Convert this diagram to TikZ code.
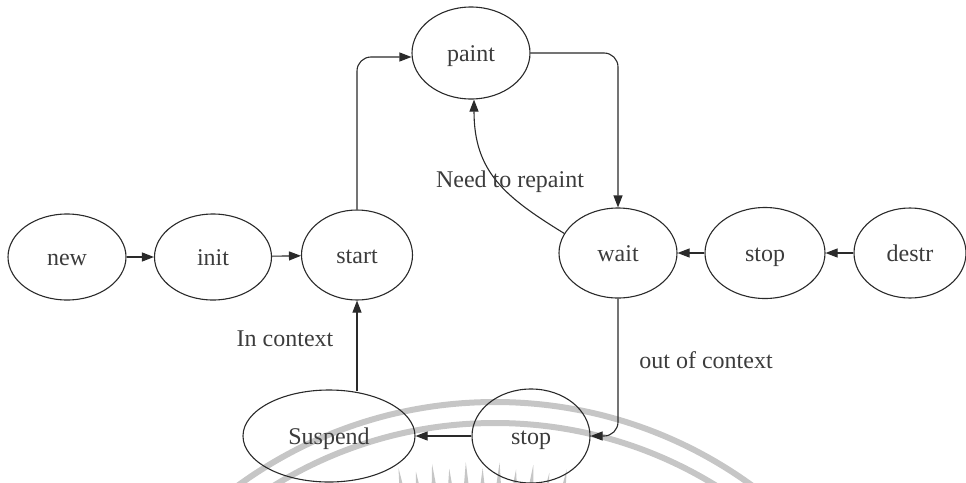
\documentclass[tikz,border=0pt]{standalone}
\usepackage{fontspec}
\setmainfont{Liberation Serif}
\usetikzlibrary{arrows.meta,shapes.geometric}
\definecolor{ink}{HTML}{2A2A2A}
\definecolor{txt}{HTML}{3C3C3C}
\definecolor{mark}{HTML}{C6C6C6}
\begin{document}
\begin{tikzpicture}[x=1pt,y=-1pt,
  state/.style={ellipse,draw=ink,line width=1.1pt,inner sep=0pt,text=txt,
    text height=20pt,text depth=3pt,font=\fontsize{24}{28}\selectfont},
  flow/.style={draw=ink,line width=1.1pt,-{Triangle[length=12pt,width=9pt]}},
  lbl/.style={text=txt,font=\fontsize{24}{28}\selectfont,inner sep=0pt},
  band/.style={draw=mark,line width=6pt},
  ray/.style={fill=mark,draw=none}]
\useasboundingbox (0,0) rectangle (966,482);

% faint emblem in the background: two arcs and a crown of tapered rays
\begin{scope}
  \clip (0,0) rectangle (966,482);
  \draw[band] (495,839) circle[radius=437pt];
  \draw[band] (495,844) circle[radius=421pt];
  \foreach \a [count=\i] in {80.5,82.3,...,99.6}{
    \pgfmathsetmacro\rin{mod(\i,2)==0 ? 532 : 538}
    \fill[ray] ({478+\rin*cos(\a)},{1000-\rin*sin(\a)})
      -- ({478+500*cos(\a-0.45)},{1000-500*sin(\a-0.45)})
      -- ({478+500*cos(\a+0.45)},{1000-500*sin(\a+0.45)}) -- cycle;
  }
\end{scope}

% states
\node[state,minimum width=118pt,minimum height=86pt] (new)     at (67,257)  {new};
\node[state,minimum width=117pt,minimum height=86pt] (init)    at (213,257) {init};
\node[state,minimum width=111pt,minimum height=90pt] (start)   at (357,255) {start};
\node[state,minimum width=118pt,minimum height=92pt] (paint)   at (471,53)  {paint};
\node[state,minimum width=118pt,minimum height=90pt] (wait)    at (618,253) {wait};
\node[state,minimum width=120pt,minimum height=91pt] (stopa)   at (765,253) {stop};
\node[state,minimum width=112pt,minimum height=90pt] (destr)   at (910,253) {destr};
\node[state,minimum width=172pt,minimum height=92pt] (suspend) at (329,436) {Suspend};
\node[state,minimum width=118pt,minimum height=94pt] (stopb)   at (531,436) {stop};

% transitions
\draw[flow] (new) -- (init);
\draw[flow] (init) -- (start);
\draw[flow,rounded corners=14pt] (start.north) |- ([yshift=-4pt]paint.west);
\draw[flow,rounded corners=14pt] (paint.east) -| (wait.north);
\draw[flow] (wait.160) .. controls (505,197) and (474,172) .. ([xshift=3pt]paint.south);
\draw[flow] (stopa) -- (wait);
\draw[flow] (destr) -- (stopa);
\draw[flow,rounded corners=14pt] (wait.south) |- (stopb.east);
\draw[flow] (stopb) -- (suspend);
\draw[flow] ([yshift=-2pt]suspend.north -| start.south) -- (start.south);

% transition labels
\node[lbl] (repaint) at (510,182) {Need to repaint};
\node[lbl] (inctx)   at (285,339) {In context};
\node[lbl] (outctx)  at (706,360) {out of context};
\end{tikzpicture}
\end{document}
